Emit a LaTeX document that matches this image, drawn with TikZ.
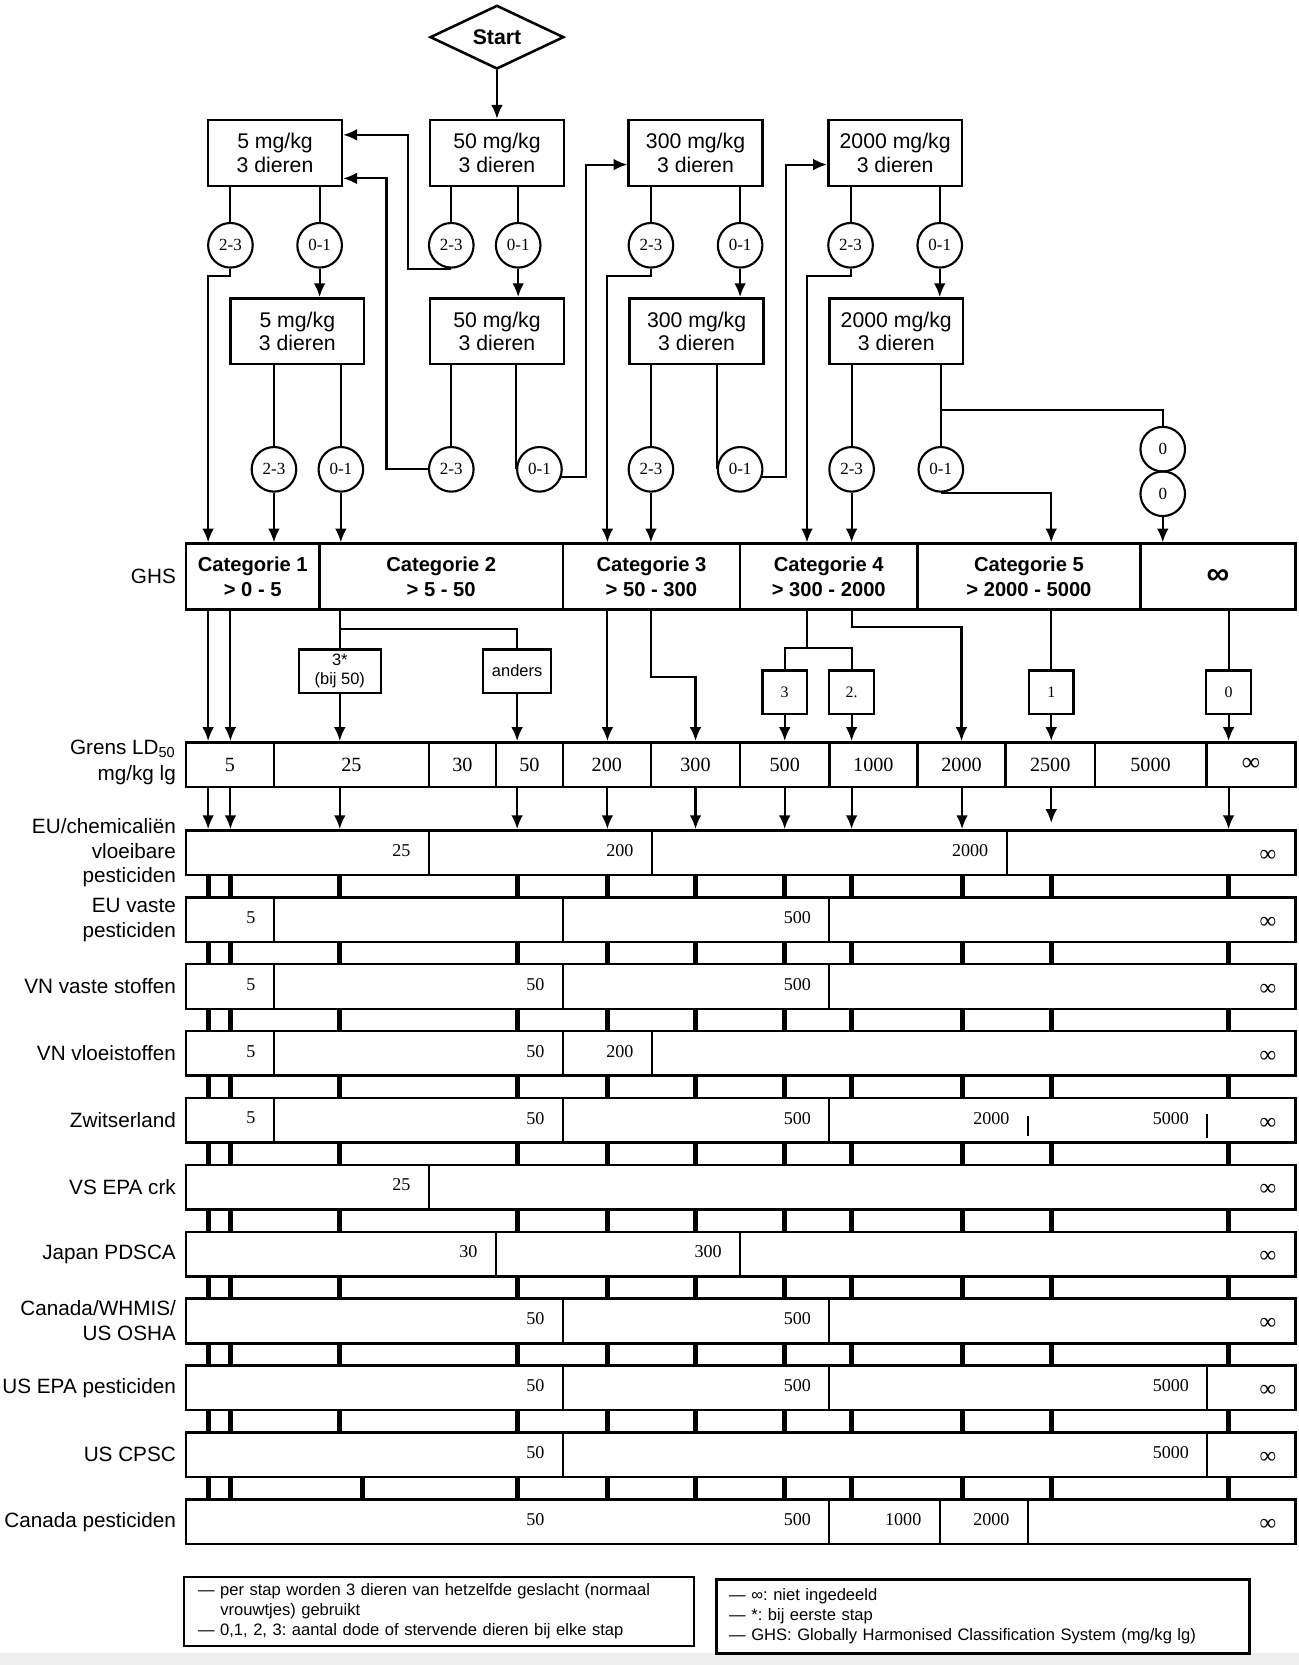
\documentclass[tikz,border=0pt]{standalone}
\usepackage{fontspec}
\setmainfont{Liberation Sans}
\newfontfamily\numfont{Liberation Serif}
\usetikzlibrary{arrows.meta,shapes.geometric}
\frenchspacing

\begin{document}
\begin{tikzpicture}[x=0.5pt, y=-0.5pt,
	every node/.style={font=\fontsize{10}{11.2}\selectfont, inner sep=0pt},
	lnk/.style={line width=1pt},
	arr/.style={lnk, -{Latex[length=6.5pt,width=5.5pt]}},
	dosebox/.style={draw, line width=1.2pt, minimum width=63pt, minimum height=31pt, align=center},
	outcome/.style={draw, circle, line width=1pt, minimum size=21pt, font=\numfont\fontsize{8}{9}\selectfont},
	catcell/.style={draw, line width=1.2pt, minimum height=31pt, align=center, font=\bfseries\fontsize{9.5}{11.5}\selectfont},
	pick/.style={draw, line width=1.1pt, minimum width=21pt, minimum height=20.5pt, font=\numfont\fontsize{7.5}{9}\selectfont},
	ldcell/.style={draw, line width=1.2pt, minimum height=21pt, font=\numfont\fontsize{9.5}{10}\selectfont},
	rowbox/.style={draw, line width=1.2pt, minimum width=522.5pt, minimum height=21pt},
	rowlabel/.style={anchor=east, align=right, font=\fontsize{9.75}{11.75}\selectfont},
	rowval/.style={anchor=east, font=\numfont\fontsize{8.5}{9}\selectfont},
	rowinf/.style={font=\numfont\fontsize{11}{11}\selectfont},
	cut/.style={line width=0.9pt},
	brick/.style={line width=2.4pt},
	legend/.style={draw, line width=1.1pt, align=left, font=\fontsize{7.8}{9.4}\selectfont}]
	\useasboundingbox (0,0) rectangle (1223,1568);
	\fill[black!7] (0,1557) rectangle (1223,1568);

	\foreach \q/\x in {a/196, b/217, c/320, d/487, e/572, f/655, g/739, h/802, i/906, j/990, k/1157, l/760, m/341}
		\coordinate (lane\q) at (\x,0);
	\coordinate (up1) at (384,127);
	\coordinate (up2) at (364,168);
	\coordinate (up3) at (552,155);
	\coordinate (up4) at (740,155);
	\coordinate (fork5) at (886,386);
	\coordinate (fork4) at (760,610);
	\coordinate (stub) at (990,775);

	\node[draw, diamond, aspect=2.1, line width=1.2pt, minimum width=63pt, minimum height=30pt, font=\bfseries\fontsize{10}{12}\selectfont] (start) at (468,35) {Start};

	\node[dosebox] (b5a) at (259,144) {5 mg/kg\\3 dieren};
	\node[dosebox] (b50a) at (468,144) {50 mg/kg\\3 dieren};
	\node[dosebox] (b300a) at (655,144) {300 mg/kg\\3 dieren};
	\node[dosebox] (b2000a) at (843,144) {2000 mg/kg\\3 dieren};
	\node[dosebox] (b5b) at (280,312) {5 mg/kg\\3 dieren};
	\node[dosebox] (b50b) at (468,312) {50 mg/kg\\3 dieren};
	\node[dosebox] (b300b) at (656,312) {300 mg/kg\\3 dieren};
	\node[dosebox] (b2000b) at (844,312) {2000 mg/kg\\3 dieren};

	\foreach \n/\x/\lbl in {5a23/217/2-3, 5a01/301/0-1, 50a23/425/2-3, 50a01/488/0-1, 300a23/613/2-3, 300a01/697/0-1, 2000a23/801/2-3, 2000a01/885/0-1}
		\node[outcome] (c\n) at (\x,231) {\lbl};
	\foreach \n/\x/\lbl in {5b23/258/2-3, 5b01/321/0-1, 50b23/425/2-3, 50b01/508/0-1, 300b23/613/2-3, 300b01/697/0-1, 2000b23/802/2-3, 2000b01/886/0-1}
		\node[outcome] (c\n) at (\x,442) {\lbl};
	\node[outcome] (zero1) at (1095,423) {0};
	\node[outcome] (zero2) at (1095,465) {0};

	\foreach \n/\lft/\rgt/\lbl in {1/175/301/{Categorie 1\\> 0 - 5}, 2/301/530/{Categorie 2\\> 5 - 50}, 3/530/697/{Categorie 3\\> 50 - 300}, 4/697/864/{Categorie 4\\> 300 - 2000}, 5/864/1074/{Categorie 5\\> 2000 - 5000}}
		\node[catcell, minimum width={(\rgt-\lft)*0.5pt}] (cat\n) at ({(\lft+\rgt)/2},543) {\lbl};
	\node[catcell, minimum width=73pt, font=\bfseries\fontsize{15}{15}\selectfont] (cat6) at (1147,543) {∞};
	\node[rowlabel] (ghslab) at (166,543) {GHS};

	\draw[arr] (start.south) -- (b50a.north);
	\draw[lnk] (b5a.south -| c5a23) -- (c5a23.north);
	\draw[arr] (c5a23.south) -- ++(0,7) -| (cat1.north -| lanea);
	\draw[lnk] (b5a.south -| c5a01) -- (c5a01.north);
	\draw[arr] (c5a01.south) -- (b5b.north -| c5a01);
	\draw[lnk] (b50a.south -| c50a23) -- (c50a23.north);
	\draw[arr] (c50a23.south) -| (up1) -- (b5a.east |- up1);
	\draw[lnk] (b50a.south -| c50a01) -- (c50a01.north);
	\draw[arr] (c50a01.south) -- (b50b.north -| c50a01);
	\draw[lnk] (b300a.south -| c300a23) -- (c300a23.north);
	\draw[arr] (c300a23.south) -- ++(0,7) -| (cat3.north -| lanee);
	\draw[lnk] (b300a.south -| c300a01) -- (c300a01.north);
	\draw[arr] (c300a01.south) -- (b300b.north -| c300a01);
	\draw[lnk] (b2000a.south -| c2000a23) -- (c2000a23.north);
	\draw[arr] (c2000a23.south) -- ++(0,7) -| (cat4.north -| lanel);
	\draw[lnk] (b2000a.south -| c2000a01) -- (c2000a01.north);
	\draw[arr] (c2000a01.south) -- (b2000b.north -| c2000a01);

	\draw[lnk] (b5b.south -| c5b23) -- (c5b23.north);
	\draw[arr] (c5b23.south) -- (cat1.north -| c5b23);
	\draw[lnk] (b5b.south -| c5b01) -- (c5b01.north);
	\draw[arr] (c5b01.south) -- (cat2.north -| c5b01);
	\draw[lnk] (b50b.south -| c50b23) -- (c50b23.north);
	\draw[arr] (c50b23.west) -| (up2) -- (b5a.east |- up2);
	\draw[lnk] (b50b.south -| c50b01.west) -- (c50b01.west);
	\draw[arr] (c50b01.-20) -| (up3) -- (b300a.west |- up3);
	\draw[lnk] (b300b.south -| c300b23) -- (c300b23.north);
	\draw[arr] (c300b23.south) -- (cat3.north -| c300b23);
	\draw[lnk] (b300b.south -| c300b01.west) -- (c300b01.west);
	\draw[arr] (c300b01.-20) -| (up4) -- (b2000a.west |- up4);
	\draw[lnk] (b2000b.south -| c2000b23) -- (c2000b23.north);
	\draw[arr] (c2000b23.south) -- (cat4.north -| c2000b23);
	\draw[lnk] (b2000b.south -| c2000b01) -- (c2000b01.north);
	\draw[arr] (c2000b01.south) -| (cat5.north -| lanej);
	\draw[lnk] (fork5) -| (zero1.north);
	\draw[arr] (zero2.south) -- (cat6.north -| zero2);

	\node[pick, minimum width=38.5pt, align=center, font=\fontsize{7.75}{9}\selectfont] (star) at (320,632) {3*\\(bij 50)};
	\node[pick, minimum width=32pt, font=\fontsize{7.75}{9}\selectfont] (anders) at (487,632) {anders};
	\node[pick] (box3) at (739,652) {3};
	\node[pick] (box2) at (802,652) {2.};
	\node[pick] (box1) at (990,652) {1};
	\node[pick] (box0) at (1157,652) {0};

	\foreach \n/\lft/\rgt/\val in {1/175/258/5, 2/258/404/25, 3/404/467/30, 4/467/530/50, 5/530/613/200, 6/613/697/300, 7/697/781/500, 8/781/864/1000, 9/864/947/2000, 10/947/1031/2500, 11/1031/1136/5000, 12/1136/1220/{\fontsize{12}{12}\selectfont ∞}}
		\node[ldcell, minimum width={(\rgt-\lft)*0.5pt}] (ld\n) at ({(\lft+\rgt)/2},720) {\val};
	\node[rowlabel, font=\fontsize{9.75}{12.5}\selectfont] (ldlab) at (166,718) {Grens LD\textsubscript{50}\\mg/kg lg};

	\draw[arr] (cat1.south -| lanea) -- (ld1.north -| lanea);
	\draw[arr] (cat1.south -| laneb) -- (ld1.north -| laneb);
	\draw[lnk] (cat2.south -| star) -- (star.north);
	\draw[lnk] (cat2.south -| star) ++(0,17) -| (anders.north);
	\draw[arr] (star.south) -- (ld2.north -| star);
	\draw[arr] (anders.south) -- (ld4.north -| anders);
	\draw[arr] (cat3.south -| lanee) -- (ld5.north -| lanee);
	\draw[arr] (cat3.south -| c300b23) -- ++(0,62) -| (ld6.north);
	\draw[lnk] (cat4.south -| fork4) -- (fork4);
	\draw[lnk] (box3.north) |- (fork4) -| (box2.north);
	\draw[arr] (box3.south) -- (ld7.north -| box3);
	\draw[arr] (box2.south) -- (ld8.north -| box2);
	\draw[arr] (cat4.south -| c2000b23) -- ++(0,15) -| (ld9.north);
	\draw[lnk] (cat5.south -| box1) -- (box1.north);
	\draw[arr] (box1.south) -- (ld10.north -| box1);
	\draw[lnk] (cat6.south -| box0) -- (box0.north);
	\draw[arr] (box0.south) -- (ld12.north -| box0);

	\foreach \i/\lbl/\cuts/\vals in {
		0/{EU/chemicaliën\\vloeibare\\pesticiden}/{404,614,948}/{404/25,614/200,948/2000},
		1/{EU vaste\\pesticiden}/{258,530,781}/{258/5,781/500},
		2/{VN vaste stoffen}/{258,530,781}/{258/5,530/50,781/500},
		3/{VN vloeistoffen}/{258,530,614}/{258/5,530/50,614/200},
		4/{Zwitserland}/{258,530,781}/{258/5,530/50,781/500,968/2000,1137/5000},
		5/{VS EPA crk}/{404}/{404/25},
		6/{Japan PDSCA}/{467,697}/{467/30,697/300},
		7/{Canada/WHMIS/\\US OSHA}/{530,781}/{530/50,781/500},
		8/{US EPA pesticiden}/{530,781,1137}/{530/50,781/500,1137/5000},
		9/{US CPSC}/{530,1137}/{530/50,1137/5000},
		10/{Canada pesticiden}/{781,885,968}/{530/50,781/500,885/1000,968/2000}}{
		\node[rowbox] (row\i) at (697.5,{803+63*\i}) {};
		\node[rowlabel] (lab\i) at (166,{803+63*\i}) {\lbl};
		\foreach \cx in \cuts
			\draw[cut] (\cx,{782+63*\i}) -- ++(0,42);
		\foreach \cx/\val in \vals
			\node[rowval] (val\i-\cx) at ({\cx-17},{801+63*\i}) {\val};
		\node[rowinf] (inf\i) at (1194,{806+63*\i}) {∞};
	}
	\draw[cut] (968,1051) -- (968,1070);
	\draw[cut] (1137,1049) -- (1137,1072);

	\foreach \q in {a,b,c,d,e,f,g,h,i,k}
		\draw[arr] (ld1.south -| lane\q) -- (row0.north -| lane\q);
	\draw[arr] (ld10.south -| stub) -- (stub);

	\foreach \i in {0,...,9}{
		\pgfmathtruncatemacro\j{\i+1}
		\foreach \q in {a,b,d,e,f,g,h,i,j,k}
			\draw[brick] (row\i.south -| lane\q) -- (row\j.north -| lane\q);
	}
	\foreach \i in {0,...,8}{
		\pgfmathtruncatemacro\j{\i+1}
		\draw[brick] (row\i.south -| lanec) -- (row\j.north -| lanec);
	}
	\draw[brick] (row9.south -| lanem) -- (row10.north -| lanem);

	\node[legend, text width=227pt, inner xsep=6.5pt, minimum height=32.2pt] (noteA) at (413.5,1517.6) {— per stap worden 3 dieren van hetzelfde geslacht (normaal\\\hspace*{10.5pt}vrouwtjes) gebruikt\\— 0,1, 2, 3: aantal dode of stervende dieren bij elke stap};
	\node[legend, text width=239pt, inner xsep=6pt, minimum height=34.85pt] (noteB) at (925.75,1522.45) {— ∞: niet ingedeeld\\— *: bij eerste stap\\— GHS: Globally Harmonised Classification System (mg/kg lg)};
\end{tikzpicture}
\end{document}
